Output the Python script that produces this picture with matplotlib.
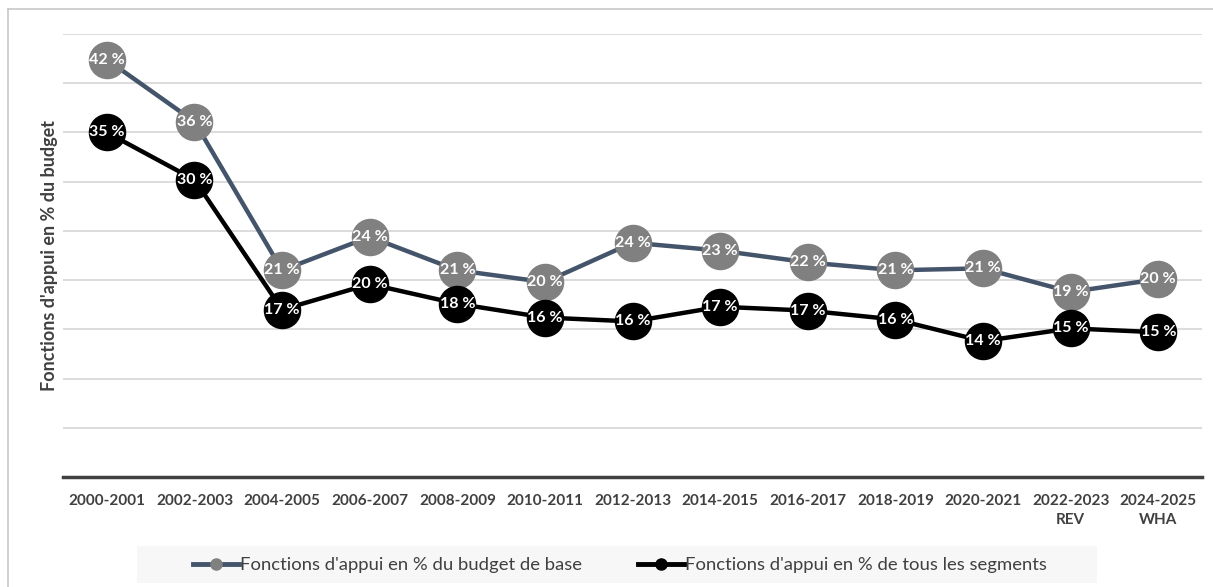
import matplotlib.pyplot as plt
from matplotlib.lines import Line2D
from matplotlib.patches import Rectangle

# Part des fonctions d'appui dans le budget, par exercice biennal
periodes = ["2000-2001", "2002-2003", "2004-2005", "2006-2007", "2008-2009",
            "2010-2011", "2012-2013", "2014-2015", "2016-2017", "2018-2019",
            "2020-2021", "2022-2023\nREV", "2024-2025\nWHA"]
budget_base = [42.4, 36.1, 21.0, 24.4, 21.0, 19.8, 23.8, 23.0, 21.8, 21.0, 21.2, 18.8, 20.1]
tous_segments = [35.0, 30.2, 17.0, 19.6, 17.6, 16.2, 15.8, 17.3, 16.9, 16.0, 13.8, 15.1, 14.7]

nom_base = "Fonctions d'appui en % du budget de base"
nom_segments = "Fonctions d'appui en % de tous les segments"

plt.rcParams['font.family'] = ['Lato', 'DejaVu Sans']

fig = plt.figure(figsize=(12.13, 5.87), dpi=100)
ax = fig.add_axes([0.052, 0.1874, 0.939, 0.7546])

x = list(range(len(periodes)))

ax.plot(x, budget_base, color='#44546A', lw=3.2, marker='o', ms=26,
        mfc='#808080', mec='#808080', zorder=3)
ax.plot(x, tous_segments, color='black', lw=3.2, marker='o', ms=26,
        mfc='black', mec='black', zorder=4)

for xi, v in zip(x, budget_base):
    ax.text(xi, v, f"{v:.0f} %", ha='center', va='center', color='white',
            fontsize=11.5, fontweight='bold', zorder=5)
for xi, v in zip(x, tous_segments):
    ax.text(xi, v, f"{v:.0f} %", ha='center', va='center', color='white',
            fontsize=11.5, fontweight='bold', zorder=6)

ax.set_xlim(-0.5, len(periodes) - 0.5)
ax.set_ylim(0, 45)
ax.set_yticks(range(5, 46, 5))
ax.yaxis.grid(True, color='#D9D9D9', lw=1.3)
ax.set_axisbelow(True)
ax.tick_params(axis='y', left=False, labelleft=False)
ax.tick_params(axis='x', length=0, pad=12)
ax.set_xticks(x)
ax.set_xticklabels(periodes, fontsize=11, fontweight='bold', color='#404040',
                   linespacing=1.5)

for s in ['top', 'right', 'left']:
    ax.spines[s].set_visible(False)
ax.spines['bottom'].set_color('#404040')
ax.spines['bottom'].set_linewidth(2.5)

ax.set_ylabel("Fonctions d'appui en % du budget", fontsize=13, fontweight='bold',
              color='#404040', labelpad=4)

# Fond gris clair de la légende
fig.add_artist(Rectangle((0.1129, 0.0068), 0.7915, 0.063, transform=fig.transFigure,
                         facecolor='#F7F7F7', edgecolor='none', zorder=0))

poignees = [
    Line2D([], [], color='#44546A', lw=3.5, marker='o', ms=8, mfc='#808080', mec='#808080'),
    Line2D([], [], color='black', lw=3.5, marker='o', ms=8, mfc='black', mec='black'),
]
leg = fig.legend(poignees, [nom_base, nom_segments], loc='center',
                 bbox_to_anchor=(0.511, 0.0375), ncol=2, frameon=False,
                 fontsize=13.3, handlelength=2.5, handletextpad=0.05,
                 columnspacing=3.0, borderpad=0)
for t in leg.get_texts():
    t.set_color('#404040')

# Cadre du graphique (haut et gauche)
fig.add_artist(Line2D([0.0066, 1.0], [0.9847, 0.9847], color='#C8C8C8', lw=1.2))
fig.add_artist(Line2D([0.0066, 0.0066], [0.0, 0.9847], color='#C8C8C8', lw=1.2))

fig.savefig('out.png', dpi=100, facecolor='white')
